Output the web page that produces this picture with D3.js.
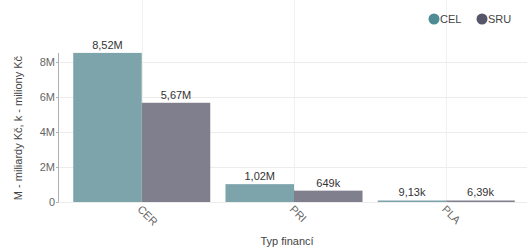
<!DOCTYPE html>
<html>
<head>
<meta charset="utf-8">
<script src="https://cdn.jsdelivr.net/npm/d3@7"></script>
<style>
  body { margin: 0; background: #fff; }
  text { font-family: "Liberation Sans", Arial, sans-serif; }
</style>
</head>
<body>
<script>
// data
const categories = ["CER", "PRI", "PLA"];
const seriesNames = ["CEL", "SRU"];
const celValues = [8520000, 1020000, 9130];
const sruValues = [5670000, 649000, 6390];
const celLabels = ["8,52M", "1,02M", "9,13k"];
const sruLabels = ["5,67M", "649k", "6,39k"];
const yTicks = [0, 2000000, 4000000, 6000000, 8000000];
const yTickLabels = ["0", "2M", "4M", "6M", "8M"];

const W = 527, H = 248;
const barColors = { CEL: "#7da4ab", SRU: "#7f7f8d" };
const legendColors = { CEL: "#4f8b95", SRU: "#56566a" };

const svg = d3.select("body").append("svg")
    .attr("width", W).attr("height", H);

const x = d3.scaleBand()
    .domain(categories)
    .range([58, 530])
    .paddingInner(0.1)
    .paddingOuter(0.1);

const xs = d3.scaleBand()
    .domain(seriesNames)
    .range([0, x.bandwidth()]);

const y = d3.scaleLinear()
    .domain([0, 8000000])
    .range([202, 62]);

// horizontal grid
svg.append("g").selectAll("line")
    .data(yTicks)
    .join("line")
    .attr("x1", 58).attr("x2", W)
    .attr("y1", d => y(d) + 0.5).attr("y2", d => y(d) + 0.5)
    .attr("stroke", "#ececec");

// vertical grid at category centres
svg.append("g").selectAll("line")
    .data(categories)
    .join("line")
    .attr("x1", d => Math.round(x(d) + x.bandwidth() / 2) + 0.5)
    .attr("x2", d => Math.round(x(d) + x.bandwidth() / 2) + 0.5)
    .attr("y1", 0).attr("y2", 203)
    .attr("stroke", "#f0f0f0");

// bars
const rows = categories.map((c, i) => ({
  cat: c,
  vals: [
    { s: "CEL", v: celValues[i], label: celLabels[i] },
    { s: "SRU", v: sruValues[i], label: sruLabels[i] }
  ]
}));

const grp = svg.append("g").selectAll("g")
    .data(rows)
    .join("g")
    .attr("transform", d => `translate(${x(d.cat)},0)`);

grp.selectAll("rect")
    .data(d => d.vals)
    .join("rect")
    .attr("x", d => xs(d.s))
    .attr("width", xs.bandwidth())
    .attr("y", d => Math.min(y(d.v), 200.5))
    .attr("height", d => Math.max(202 - y(d.v), 1.5))
    .attr("fill", d => barColors[d.s]);

grp.selectAll("text")
    .data(d => d.vals)
    .join("text")
    .attr("x", d => xs(d.s) + xs.bandwidth() / 2)
    .attr("y", d => Math.min(y(d.v), 200) - 4)
    .attr("text-anchor", "middle")
    .attr("font-size", 11)
    .attr("fill", "#333")
    .text(d => d.label);

// y axis
const yAxis = svg.append("g")
    .attr("transform", "translate(58,0)")
    .call(d3.axisLeft(y).tickValues(yTicks).tickSize(2)
        .tickFormat((d, i) => yTickLabels[i]));
yAxis.select(".domain").attr("stroke", "#b0b0b0").attr("d", "M0.5,53V202.5");
yAxis.selectAll(".tick line").attr("stroke", "#b0b0b0");
yAxis.selectAll(".tick text").attr("font-size", 11).attr("fill", "#666")
    .attr("x", -3)
    .attr("font-family", "Liberation Sans, Arial, sans-serif");

// x axis labels
const xAxis = svg.append("g")
    .attr("transform", "translate(0,202)")
    .call(d3.axisBottom(x).tickSize(0));
xAxis.select(".domain").remove();
xAxis.selectAll(".tick text")
    .attr("font-size", 11).attr("fill", "#666")
    .attr("font-family", "Liberation Sans, Arial, sans-serif")
    .attr("text-anchor", "start")
    .attr("dy", null).attr("y", 0)
    .attr("transform", "translate(-5,8) rotate(45)");

// axis titles
svg.append("text")
    .attr("transform", "translate(22,128) rotate(-90)")
    .attr("text-anchor", "middle")
    .attr("font-size", 11)
    .attr("fill", "#444")
    .text("M - miliardy Kč, k - miliony Kč");

svg.append("text")
    .attr("x", 287).attr("y", 245)
    .attr("text-anchor", "middle")
    .attr("font-size", 11)
    .attr("fill", "#444")
    .text("Typ financí");

// legend
const legend = svg.append("g").selectAll("g")
    .data(seriesNames)
    .join("g")
    .attr("transform", (d, i) => `translate(${434 + i * 48},19)`);
legend.append("circle").attr("r", 5.5).attr("fill", d => legendColors[d]);
legend.append("text")
    .attr("x", 6).attr("y", 4)
    .attr("font-size", 11)
    .attr("fill", "#444")
    .text(d => d);
</script>
</body>
</html>
